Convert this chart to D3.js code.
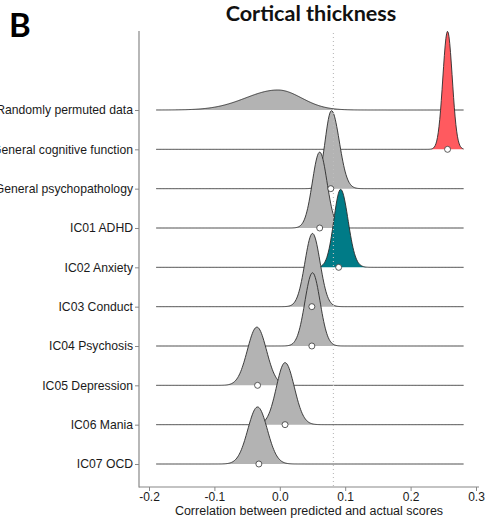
<!DOCTYPE html>
<html>
<head>
<meta charset="utf-8">
<script src="https://cdn.jsdelivr.net/npm/d3@7"></script>
<style>
  body { margin: 0; background: #fff; }
  svg { display: block; }
</style>
</head>
<body>
<div id="chart"></div>
<script>
"use strict";

// rows from top to bottom
var categories = ["Randomly permuted data", "General cognitive function", "General psychopathology",
  "IC01 ADHD", "IC02 Anxiety", "IC03 Conduct", "IC04 Psychosis", "IC05 Depression", "IC06 Mania", "IC07 OCD"];
// null distribution centres and spreads (left / right of the peak)
var peakValues = [-0.003, 0.2565, 0.079, 0.061, 0.093, 0.050, 0.050, -0.035, 0.008, -0.034];
var spreadLeft = [0.049, 0.0072, 0.0098, 0.0112, 0.0104, 0.0116, 0.0116, 0.0146, 0.0132, 0.0149];
var spreadRight = [0.036, 0.0072, 0.0120, 0.0112, 0.0114, 0.0116, 0.0116, 0.0146, 0.0142, 0.0149];
// actual prediction scores (open circles)
var actualScores = [null, 0.2565, 0.078, 0.061, 0.090, 0.049, 0.049, -0.034, 0.008, -0.032];
var fillColors = ["#b3b3b3", "#ff5a5f", "#b3b3b3", "#b3b3b3", "#007b87", "#b3b3b3", "#b3b3b3", "#b3b3b3", "#b3b3b3", "#b3b3b3"];
var xTicks = [-0.2, -0.1, 0.0, 0.1, 0.2, 0.3];
var densityFrom = -0.189, densityTo = 0.281;
var refLine = 0.082;

var width = 486;
var height = 519;
var panel = {left: 139, right: 479, top: 31, bottom: 487};

var svg = d3.select("#chart").append("svg")
  .attr("width", width)
  .attr("height", height);

var x = d3.scaleLinear()
  .domain([-0.2, 0.3])
  .range([149, 476]);

var y = d3.scalePoint()
  .domain(categories)
  .range([110, 464]);

function splitNormal(v, m, sl, sr) {
  var s = v < m ? sl : sr;
  var z = (v - m) / s;
  return 2 / (Math.sqrt(2 * Math.PI) * (sl + sr)) * Math.exp(-0.5 * z * z);
}

var grid = d3.range(0, 401).map(function(i) { return densityFrom + (densityTo - densityFrom) * i / 400; });

var ridges = categories.map(function(c, i) {
  return grid.map(function(v) {
    return {x: v, d: splitNormal(v, peakValues[i], spreadLeft[i], spreadRight[i])};
  });
});

var maxDensity = d3.max(ridges, function(r) { return d3.max(r, function(p) { return p.d; }); });
var h = d3.scaleLinear().domain([0, maxDensity]).range([0, 118]);

var ridgeG = svg.append("g");

categories.forEach(function(c, i) {
  var base = y(c);
  var area = d3.area()
    .x(function(p) { return x(p.x); })
    .y0(base)
    .y1(function(p) { return base - h(p.d); });
  var line = d3.line()
    .x(function(p) { return x(p.x); })
    .y(function(p) { return base - h(p.d); });

  ridgeG.append("path")
    .datum(ridges[i])
    .attr("fill", fillColors[i])
    .attr("d", area);
  ridgeG.append("path")
    .datum(ridges[i])
    .attr("fill", "none")
    .attr("stroke", "#2b2b2b")
    .attr("stroke-width", 0.9)
    .attr("d", line);
});

// reference dotted line
svg.append("line")
  .attr("x1", x(refLine)).attr("x2", x(refLine))
  .attr("y1", 33).attr("y2", panel.bottom)
  .attr("stroke", "#bdbdbd")
  .attr("stroke-width", 1.2)
  .attr("stroke-dasharray", "1,3");

svg.append("g").selectAll("circle")
  .data(categories.filter(function(c, i) { return actualScores[i] !== null; }))
  .enter()
  .append("circle")
  .attr("cx", function(c) { return x(actualScores[categories.indexOf(c)]); })
  .attr("cy", function(c) { return y(c); })
  .attr("r", 3)
  .attr("fill", "#fff")
  .attr("stroke", "#333")
  .attr("stroke-width", 0.8);

// axes
var xAxis = svg.append("g")
  .attr("transform", "translate(0," + panel.bottom + ")")
  .call(d3.axisBottom(x).tickValues(xTicks).tickSize(4).tickPadding(1.5)
    .tickFormat(function(d) { return d3.format(".1f")(d).replace("−", "-"); }));
xAxis.select(".domain").remove();

var yAxis = svg.append("g")
  .attr("transform", "translate(" + panel.left + ",0)")
  .call(d3.axisLeft(y).tickSize(4).tickPadding(2));
yAxis.select(".domain").remove();

svg.selectAll(".tick line").attr("stroke", "#888").attr("stroke-width", 1);
svg.selectAll(".tick text")
  .attr("fill", "#1a1a1a")
  .style("font-family", "'Liberation Sans', Arial, sans-serif")
  .style("font-size", "12.2px");
xAxis.selectAll(".tick text").style("font-size", "12px");

svg.append("line")
  .attr("x1", panel.left).attr("x2", panel.left)
  .attr("y1", panel.top).attr("y2", panel.bottom + 0.5)
  .attr("stroke", "#888").attr("stroke-width", 1.2);
svg.append("line")
  .attr("x1", panel.left).attr("x2", panel.right)
  .attr("y1", panel.bottom).attr("y2", panel.bottom)
  .attr("stroke", "#888").attr("stroke-width", 1.2);

svg.append("text")
  .attr("x", (panel.left + panel.right) / 2)
  .attr("y", 515)
  .attr("text-anchor", "middle")
  .style("font-family", "'Liberation Sans', Arial, sans-serif")
  .style("font-size", "12.5px")
  .attr("fill", "#1a1a1a")
  .text("Correlation between predicted and actual scores");

svg.append("text")
  .attr("x", 311)
  .attr("y", 21)
  .attr("text-anchor", "middle")
  .style("font-family", "Lato, 'Open Sans', sans-serif")
  .style("font-weight", "bold")
  .style("font-size", "21.6px")
  .attr("fill", "#111")
  .text("Cortical thickness");

svg.append("text")
  .attr("x", 9)
  .attr("y", 37)
  .style("font-family", "Lato, 'Open Sans', sans-serif")
  .style("font-weight", "bold")
  .style("font-size", "33px")
  .attr("fill", "#000")
  .text("B");
</script>
</body>
</html>
